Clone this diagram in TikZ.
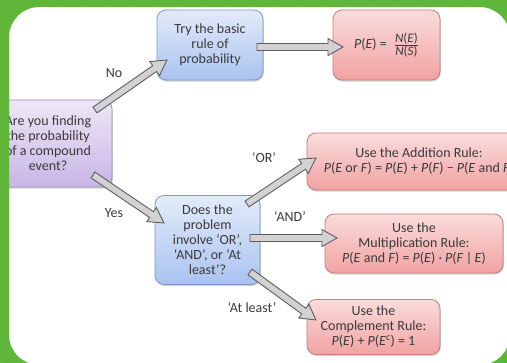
\documentclass[tikz,border=0pt]{standalone}
\usepackage{fontspec}
\setmainfont{Carlito}
\usetikzlibrary{calc,shadows,patterns}

\definecolor{frameGreen}{HTML}{5CB335}
\definecolor{frameStripe}{HTML}{68BD41}
\definecolor{txt}{HTML}{3A3A3A}
\definecolor{blueTop}{HTML}{E3EBF9}
\definecolor{blueBot}{HTML}{A9C3F0}
\definecolor{blueEdge}{HTML}{7D98C9}
\definecolor{redTop}{HTML}{FADCDC}
\definecolor{redBot}{HTML}{F2A2A2}
\definecolor{redEdge}{HTML}{C57E7E}
\definecolor{purpTop}{HTML}{EEE7F6}
\definecolor{purpBot}{HTML}{C8B5E6}
\definecolor{purpEdge}{HTML}{9D8BBE}
\definecolor{arrFill}{HTML}{D2D2D2}
\definecolor{arrEdge}{HTML}{5E5E5E}

\tikzset{
  box/.style={rounded corners=9pt, line width=0.8pt, align=center,
    font=\fontsize{14}{15}\selectfont, text=txt, inner sep=2pt,
    drop shadow={shadow xshift=0.8pt, shadow yshift=-1.6pt, fill=black, opacity=0.18}},
  bluebox/.style={box, draw=blueEdge, top color=blueTop, bottom color=blueBot},
  redbox/.style={box, draw=redEdge, top color=redTop, bottom color=redBot},
  purpbox/.style={box, draw=purpEdge, top color=purpTop, bottom color=purpBot},
  lbl/.style={font=\fontsize{14}{15}\selectfont, text=txt, inner sep=0pt},
  arrowbody/.style={fill=arrFill, draw=arrEdge, line width=0.9pt, line join=miter},
}

% thick block arrow from one named point to another
\newcommand\blockarrow[2]{%
  \filldraw[arrowbody] let \p1=(#1), \p2=(#2),
      \n1={atan2(\y2-\y1,\x2-\x1)}, \n2={veclen(\x2-\x1,\y2-\y1)} in
    ($(\p1)+({\n1+90}:3.5pt)$)
    -- ($(\p1)+(\n1:{\n2-15pt})+({\n1+90}:3.5pt)$)
    -- ($(\p1)+(\n1:{\n2-15pt})+({\n1+90}:8.5pt)$)
    -- (\p2)
    -- ($(\p1)+(\n1:{\n2-15pt})+({\n1-90}:8.5pt)$)
    -- ($(\p1)+(\n1:{\n2-15pt})+({\n1-90}:3.5pt)$)
    -- ($(\p1)+({\n1-90}:3.5pt)$) -- cycle;}

\newcommand\vi[1]{\textit{#1}}
\newcommand\fracpart[1]{\hbox{\fontsize{13}{13}\selectfont #1}}

\begin{document}
\begin{tikzpicture}[x=1pt, y=-1pt]
\useasboundingbox (0,0) rectangle (507,363);
\fill[white] (0,0) rectangle (507,363);

% boxes
\node[bluebox, minimum width=106pt, minimum height=70pt] (try) at (210,45)
  {Try the basic\\rule of\\probability};
\node[redbox, minimum width=107pt, minimum height=70pt] (pe) at (386.5,45)
  {\vi{P}(\vi{E}) =\hspace{7pt}$\frac{\fracpart{\vi{N}(\vi{E})}}{\fracpart{\vi{N}(\vi{S})}}$};
\node[purpbox, minimum width=128pt, minimum height=87pt] (q) at (48,143.5)
  {Are you finding\\the probability\\of a compound\\event?};
\node[bluebox, minimum width=105pt, minimum height=89pt] (does) at (207.5,240)
  {Does the\\problem\\involve ‘OR’,\\‘AND’, or ‘At\\least’?};
\node[redbox, minimum width=224pt, minimum height=57pt] (add) at (419,161.5)
  {Use the Addition Rule:\\\vi{P}(\vi{E} or \vi{F}) = \vi{P}(\vi{E}) + \vi{P}(\vi{F}) − \vi{P}(\vi{E} and \vi{F})};
\node[redbox, minimum width=178pt, minimum height=59pt] (mult) at (414,243.5)
  {Use the\\Multiplication Rule:\\\vi{P}(\vi{E} and \vi{F}) = \vi{P}(\vi{E}) · \vi{P}(\vi{F}\,|\,\vi{E})};
\node[redbox, minimum width=133pt, minimum height=55pt] (comp) at (373.5,327)
  {Use the\\Complement Rule:\\\vi{P}(\vi{E}) + \vi{P}(\vi{E}\textsuperscript{\vi{c}}) = 1};

% arrow end points
\coordinate (noS) at (95,110);   \coordinate (noE) at (167,60);
\coordinate (peS) at (257,47);   \coordinate (peE) at (343,47);
\coordinate (yesS) at (93,175);  \coordinate (yesE) at (164,223);
\coordinate (orS) at (247,204);  \coordinate (orE) at (316,158);
\coordinate (andS) at (250,238); \coordinate (andE) at (337,238);
\coordinate (alS) at (250,272);  \coordinate (alE) at (316,320);

\blockarrow{noS}{noE}
\blockarrow{peS}{peE}
\blockarrow{yesS}{yesE}
\blockarrow{orS}{orE}
\blockarrow{andS}{andE}
\blockarrow{alS}{alE}

% branch labels
\node[lbl] (lno) at (114,73) {No};
\node[lbl] (lyes) at (114,213) {Yes};
\node[lbl] (lor) at (264,158) {‘OR’};
\node[lbl] (land) at (290,216) {‘AND’};
\node[lbl] (lal) at (252,308) {‘At least’};

% green frame around the slide area
\fill[frameGreen, even odd rule] (-1,-1) rectangle (508,364)
  {[rounded corners=30pt] (9,7) rectangle (510,365)};
\fill[pattern=north east lines, pattern color=frameStripe, even odd rule] (-1,-1) rectangle (508,364)
  {[rounded corners=30pt] (9,7) rectangle (510,365)};
\end{tikzpicture}
\end{document}
